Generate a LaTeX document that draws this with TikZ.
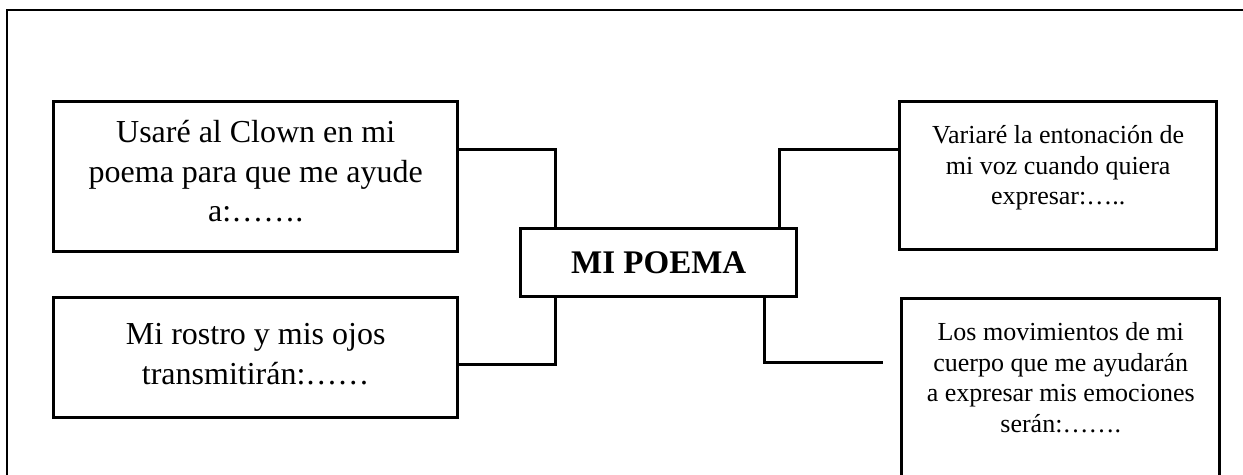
\documentclass[tikz,border=0pt]{standalone}
\usepackage{fontspec}
\setmainfont{Liberation Serif}
\usetikzlibrary{positioning}

\begin{document}
\begin{tikzpicture}[x=0.5pt, y=-0.5pt,
    ideabox/.style={draw, rectangle, line width=1.7pt, inner sep=0pt, anchor=north west},
    bigtext/.style={align=center, inner sep=0pt, font={\fontsize{16}{19.8}\selectfont}},
    smalltext/.style={align=center, inner sep=0pt, font={\fontsize{13}{15.3}\selectfont}},
    link/.style={line width=1.5pt}]
        \clip (0,0) rectangle (1243,475);
        % frame %
        \draw[line width=1.2pt] (7,520) -- (7,10) -- (1260,10);

        % nodes %
        \node[ideabox, minimum width=202pt, minimum height=75pt] (clown) at (52,100) {};
        \node[ideabox, minimum width=202pt, minimum height=60pt] (rostro) at (52,296) {};
        \node[ideabox, minimum width=138pt, minimum height=34pt,
              font={\fontsize{16.5}{20}\selectfont\bfseries}] (poema) at (519,227) {MI POEMA};
        \node[ideabox, minimum width=158.5pt, minimum height=74pt] (voz) at (898,100) {};
        \node[ideabox, minimum width=159pt, minimum height=110pt] (cuerpo) at (900,297) {};
        \coordinate (cuerpoend) at (883,363);

        % texts %
        \node[bigtext, below=10pt of clown.north] (clowntxt) {Usaré al Clown en mi\\poema para que me ayude\\a:…….};
        \node[bigtext, below=13.5pt of rostro.north] (rostrotxt) {Mi rostro y mis ojos\\transmitirán:……};
        \node[smalltext, below=12.5pt of voz.north] (voztxt) {Variaré la entonación de\\mi voz cuando quiera\\expresar:…..};
        \node[smalltext, below=12.5pt of cuerpo.north] (cuerpotxt) {Los movimientos de mi\\cuerpo que me ayudarán\\a expresar mis emociones\\serán:…….};

        % edges %
        \draw[link] ([yshift=13.5pt]clown.east) -| ([xshift=18pt]poema.north west);
        \draw[link] ([xshift=-9.5pt]poema.north east) |- ([yshift=13pt]voz.west);
        \draw[link] ([xshift=18pt]poema.south west) |- ([yshift=-3.5pt]rostro.east);
        \draw[link] ([xshift=-17pt]poema.south east) |- (cuerpoend);
\end{tikzpicture}
\end{document}
